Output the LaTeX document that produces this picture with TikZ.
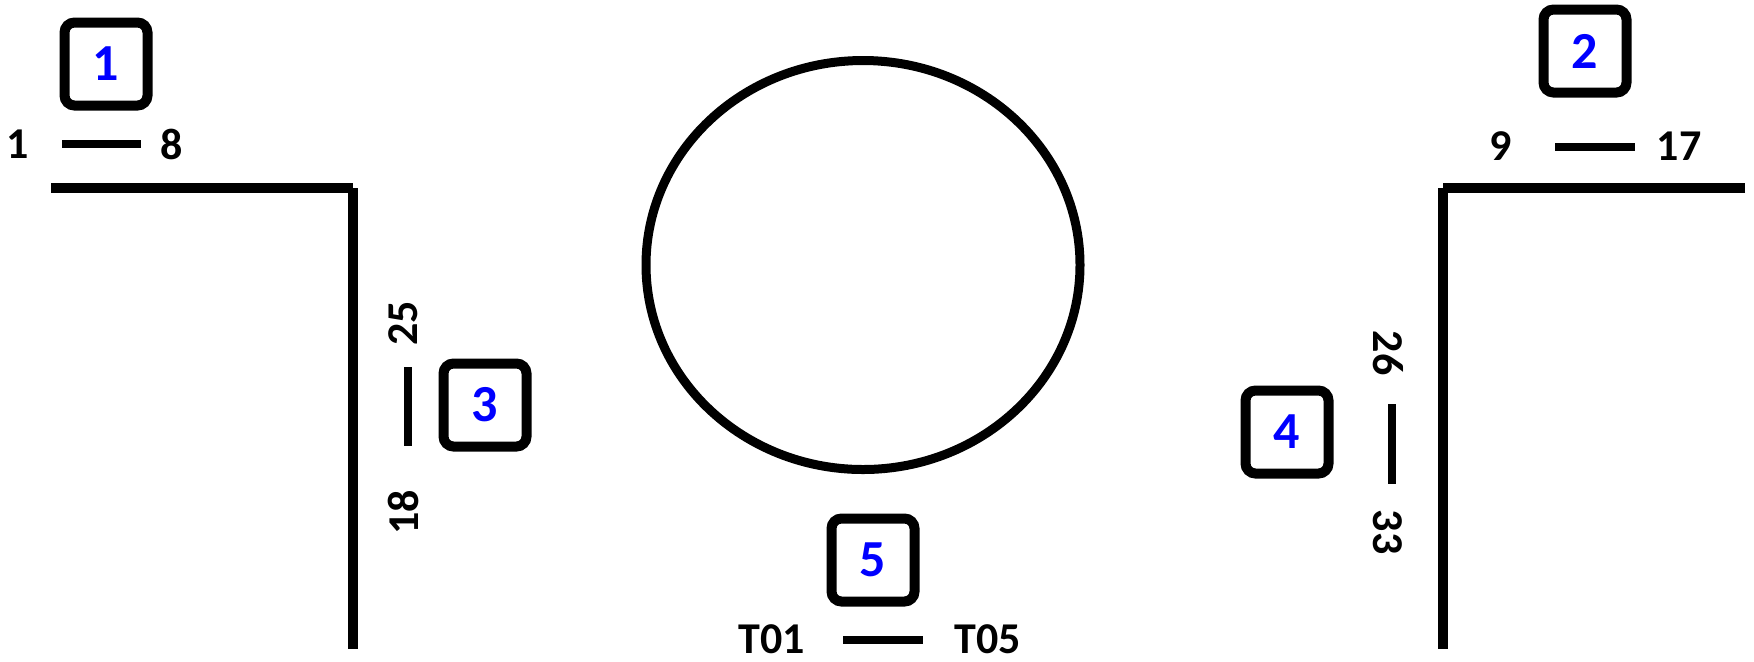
\documentclass[tikz,border=0pt]{standalone}
\usepackage{fontspec}
\setmainfont{Carlito}
\usepackage{xcolor}
\usepackage{tikz}
\usetikzlibrary{shapes.geometric, positioning}
\definecolor{numazul}{RGB}{0,0,255}
\tikzset{
  caja/.style={rectangle, rounded corners=5pt, draw=black, line width=5pt,
    fill=white, minimum size=41.5pt, inner sep=0pt,
    font=\fontsize{26}{30}\selectfont\bfseries, text=numazul},
  etiq/.style={inner sep=0pt, font=\fontsize{22}{26}\selectfont\bfseries},
  pared/.style={line width=5pt, line cap=butt},
  tramo/.style={line width=4.3pt, line cap=butt}
}

\begin{document}
\begin{tikzpicture}[x=0.5pt, y=-0.5pt]
  \useasboundingbox (0,0) rectangle (1754,661);
  % muros en L
  \coordinate (pi1) at (51,188);
  \coordinate (pi2) at (353,188);
  \coordinate (pi3) at (353,649);
  \coordinate (pd1) at (1745,188);
  \coordinate (pd2) at (1443,188);
  \coordinate (pd3) at (1443,649);
  \draw[pared] (pi1) -- (pi2);
  \draw[pared] (pi2) -- (pi3);
  \draw[pared] (pd1) -- (pd2);
  \draw[pared] (pd2) -- (pd3);
  % mesa central
  \node[draw, line width=4.5pt, ellipse, minimum width=217pt, minimum height=204.5pt,
    inner sep=0pt] (mesa) at (863,265) {};
  % cajas numeradas
  \node[caja] (c1) at (106,64) {1};
  \node[caja] (c2) at (1585,51) {2};
  \node[caja] (c3) at (485,405) {3};
  \node[caja] (c4) at (1287,432) {4};
  \node[caja] (c5) at (873,560) {5};
  % grupo 1
  \node[etiq] (e1) at (18,144) {1};
  \node[etiq] (e8) at (172,144) {8};
  \coordinate (g1a) at (62,144);
  \coordinate (g1b) at (141,144);
  \draw[tramo] (g1a) -- (g1b);
  % grupo 2
  \node[etiq] (e9) at (1501,146) {9};
  \node[etiq] (e17) at (1679,146) {17};
  \coordinate (g2a) at (1555,147);
  \coordinate (g2b) at (1635,147);
  \draw[tramo] (g2a) -- (g2b);
  % grupo 3
  \node[etiq, rotate=90] (e25) at (403,323) {25};
  \node[etiq, rotate=90] (e18) at (403,512) {18};
  \coordinate (g3a) at (408,367);
  \coordinate (g3b) at (408,446);
  \draw[tramo] (g3a) -- (g3b);
  % grupo 4
  \node[etiq, rotate=-90] (e26) at (1388,353) {26};
  \node[etiq, rotate=-90] (e33) at (1388,532) {33};
  \coordinate (g4a) at (1392,404);
  \coordinate (g4b) at (1392,484);
  \draw[tramo] (g4a) -- (g4b);
  % grupo 5
  \node[etiq] (t01) at (772,639) {T01};
  \node[etiq] (t05) at (988,639) {T05};
  \coordinate (g5a) at (843,640);
  \coordinate (g5b) at (923,640);
  \draw[tramo] (g5a) -- (g5b);
\end{tikzpicture}
\end{document}
